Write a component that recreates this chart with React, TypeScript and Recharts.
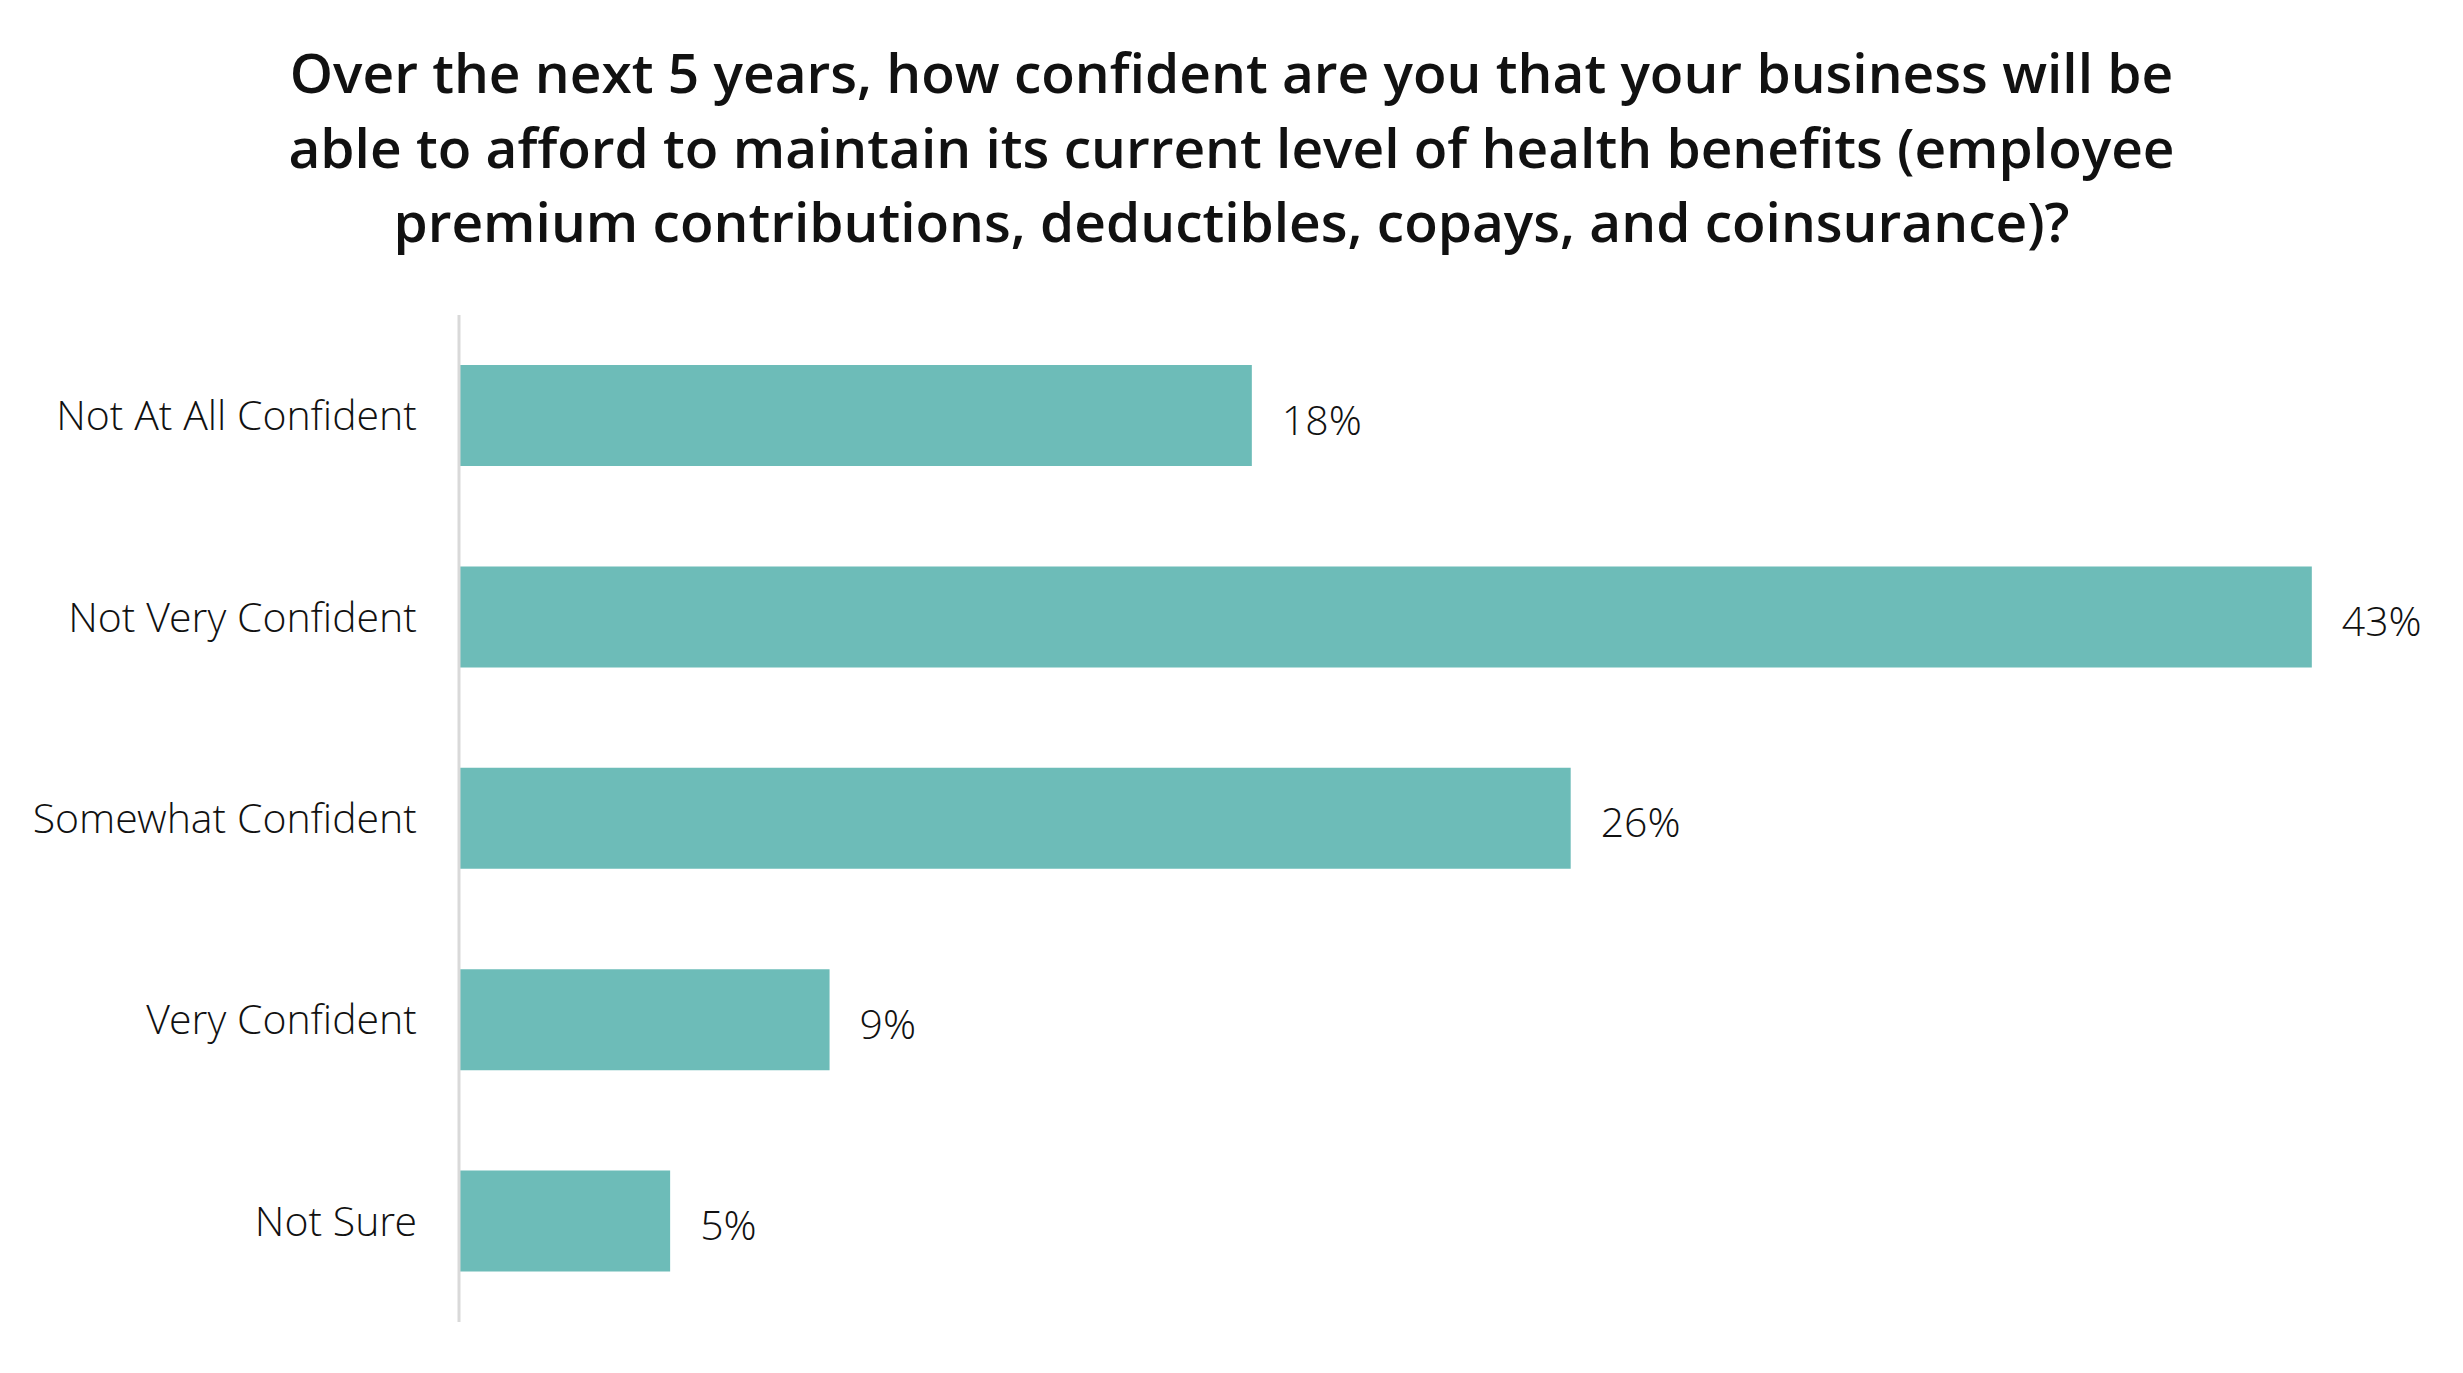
import React from 'react';
import { BarChart, Bar, XAxis, YAxis, LabelList } from 'recharts';

// answers, top to bottom
const categories = ['Not At All Confident', 'Not Very Confident', 'Somewhat Confident', 'Very Confident', 'Not Sure'];
// share of respondents (%)
const shares = [18.4, 43, 25.8, 8.6, 4.9];

const titleLines = [
  'Over the next 5 years, how confident are you that your business will be',
  'able to afford to maintain its current level of health benefits (employee',
  'premium contributions, deductibles, copays, and coinsurance)?',
];

const data = categories.map((name, i) => ({ name, value: shares[i] }));

const FONT = '"Open Sans", sans-serif';
const LIGHT_FONT = '"Open Sans Light", "Open Sans", sans-serif';
const BAR_COLOR = '#6DBCB8';

// value label, nudged a little below the bar centre like the original
const renderValue = (props: any) => {
  const { x, y, width, height, value } = props;
  return (
    <text
      x={Number(x) + Number(width) + 30}
      y={Number(y) + Number(height) / 2 + 3}
      dominantBaseline="central"
      fill="#111"
      fontSize={41}
      fontWeight={300}
      fontFamily={LIGHT_FONT}
    >
      {`${Math.round(Number(value))}%`}
    </text>
  );
};

export default function App() {
  return (
    <div style={{ position: 'absolute', left: 0, top: 0, width: 2463, height: 1373, background: '#fff', fontFamily: FONT }}>
      <div
        style={{
          position: 'absolute',
          top: 35,
          left: 0,
          width: 2463,
          textAlign: 'center',
          fontSize: 55,
          lineHeight: '74.5px',
          fontWeight: 600,
          color: '#111',
        }}
      >
        {titleLines.map((l) => (
          <div key={l}>{l}</div>
        ))}
      </div>
      <BarChart
        width={2463}
        height={1373}
        data={data}
        layout="vertical"
        margin={{ top: 315, right: 65, bottom: 51, left: 0 }}
        barCategoryGap={0}
        style={{ position: 'absolute', left: 0, top: 0 }}
      >
        <XAxis type="number" domain={[0, 45]} hide />
        <YAxis
          type="category"
          dataKey="name"
          width={459}
          tickLine={false}
          axisLine={{ stroke: '#d9d9d9', strokeWidth: 3 }}
          tickMargin={36}
          tick={{ fill: '#111', fontSize: 41, fontWeight: 300, fontFamily: LIGHT_FONT }}
        />
        <Bar dataKey="value" fill={BAR_COLOR} barSize={101} isAnimationActive={false}>
          <LabelList dataKey="value" content={renderValue} />
        </Bar>
      </BarChart>
    </div>
  );
}
